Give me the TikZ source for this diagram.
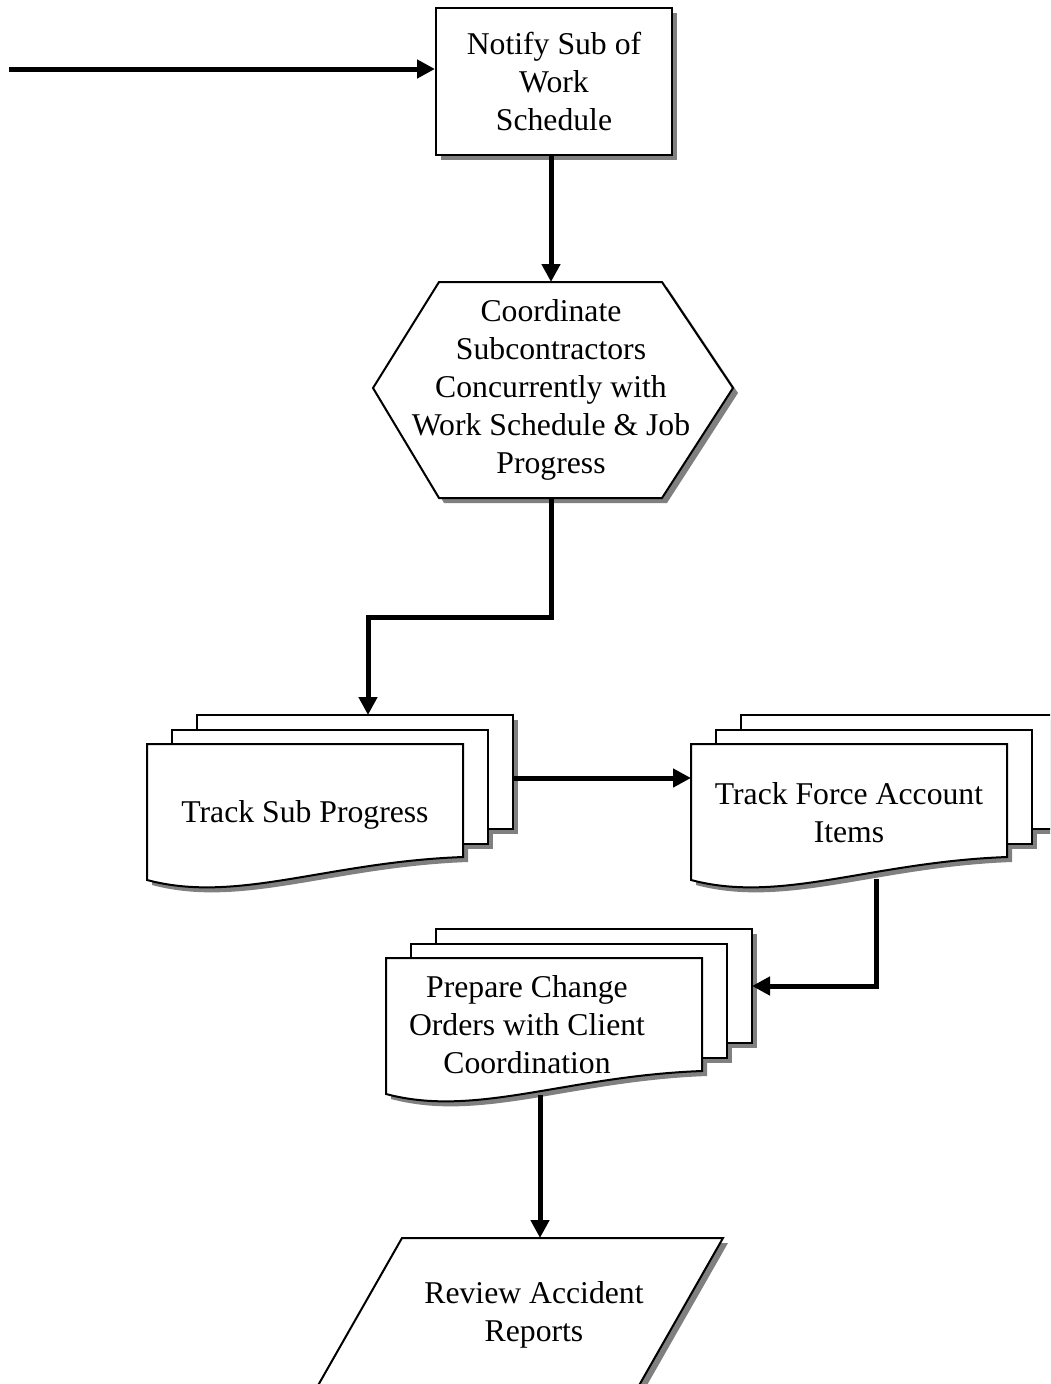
\documentclass[tikz,border=0pt]{standalone}
\usepackage{fontspec}
\setmainfont{Liberation Serif}
\usetikzlibrary{arrows.meta}
\tikzset{
  shapeline/.style={line width=2pt, draw=black, fill=white, line join=miter},
  shadowfill/.style={fill=black!50},
  conn/.style={line width=5pt, -{Triangle[length=18pt,width=18pt]}},
  txt/.style={font=\fontsize{31.7}{38}\selectfont, align=center, inner sep=0pt},
  holder/.style={inner sep=0pt, outer sep=0pt},
}
\newcommand\mdocshape[3]{%
  \begin{scope}[shift={(#2,#3)}]
    \begin{scope}[shift={(5,5)}]
      \fill[shadowfill] (50,-29) rectangle (366,85);
      \fill[shadowfill] (25,-14.5) rectangle (341,99.5);
      \fill[shadowfill] (0,0) -- (316,0) -- (316,113) .. controls (180,118) and (90,160) .. (0,136) -- cycle;
    \end{scope}
    \path[shapeline] (50,-29) rectangle (366,85);
    \path[shapeline] (25,-14.5) rectangle (341,99.5);
    \path[shapeline] (0,0) -- (316,0) -- (316,113) .. controls (180,118) and (90,160) .. (0,136) -- cycle;
    \node[holder, minimum width=316pt, minimum height=114pt, anchor=north west] (#1b) at (50,-29) {};
    \node[holder, minimum width=316pt, minimum height=113pt, anchor=north west] (#1) at (0,0) {};
  \end{scope}}
\begin{document}
\begin{tikzpicture}[x=1pt,y=-1pt]
  \useasboundingbox (0,0) rectangle (1050,1384);
  \clip (0,0) rectangle (1050,1384);

  % Notify box
  \fill[shadowfill] (441,13) rectangle (677,160);
  \node[shapeline, txt, minimum width=236pt, minimum height=147pt] (notify) at (554,81.5)
    {Notify Sub of\\Work\\Schedule};

  % Hexagon
  \fill[shadowfill, shift={(5,5)}] (439,282) -- (662,282) -- (733,388) -- (662,498) -- (439,498) -- (373,388) -- cycle;
  \path[shapeline] (439,282) -- (662,282) -- (733,388) -- (662,498) -- (439,498) -- (373,388) -- cycle;
  \node[holder, txt, minimum width=360pt, minimum height=216pt] (coord) at (551,390)
    {Coordinate\\Subcontractors\\Concurrently with\\Work Schedule \& Job\\Progress};

  % Multi-document shapes
  \mdocshape{docA}{147}{744}
  \node[txt] (docAt) at (305,815) {Track Sub Progress};
  \mdocshape{docB}{691}{744}
  \node[txt] (docBt) at (849,813) {Track Force Account\\Items};
  \mdocshape{docC}{386}{958}
  \node[txt] (docCt) at (527,1025) {Prepare Change\\Orders with Client\\Coordination};

  % Parallelogram
  \fill[shadowfill, shift={(5,5)}] (402,1238) -- (723,1238) -- (625,1410) -- (304,1410) -- cycle;
  \path[shapeline] (402,1238) -- (723,1238) -- (625,1410) -- (304,1410) -- cycle;
  \node[holder, txt, minimum width=240pt, minimum height=154pt] (review) at (534,1315)
    {Review Accident\\Reports};

  % Connectors
  \coordinate (start) at (9,69);
  \draw[conn] (start) -- (start -| notify.west);
  \draw[conn] (notify.south -| coord.north) -- (coord.north);
  \draw[conn] (coord.south) -- ++(0,119) -| ([xshift=13pt]docAb.north);
  \draw[conn] ([yshift=-6pt]docAb.east) -- ([yshift=-6pt]docAb.east -| docB.west);
  \coordinate (docBout) at (876,879);
  \draw[conn] (docBout) |- (docCb.east);
  \coordinate (docCout) at (540,1095);
  \draw[conn] (docCout) -- (docCout |- review.north);
\end{tikzpicture}
\end{document}
